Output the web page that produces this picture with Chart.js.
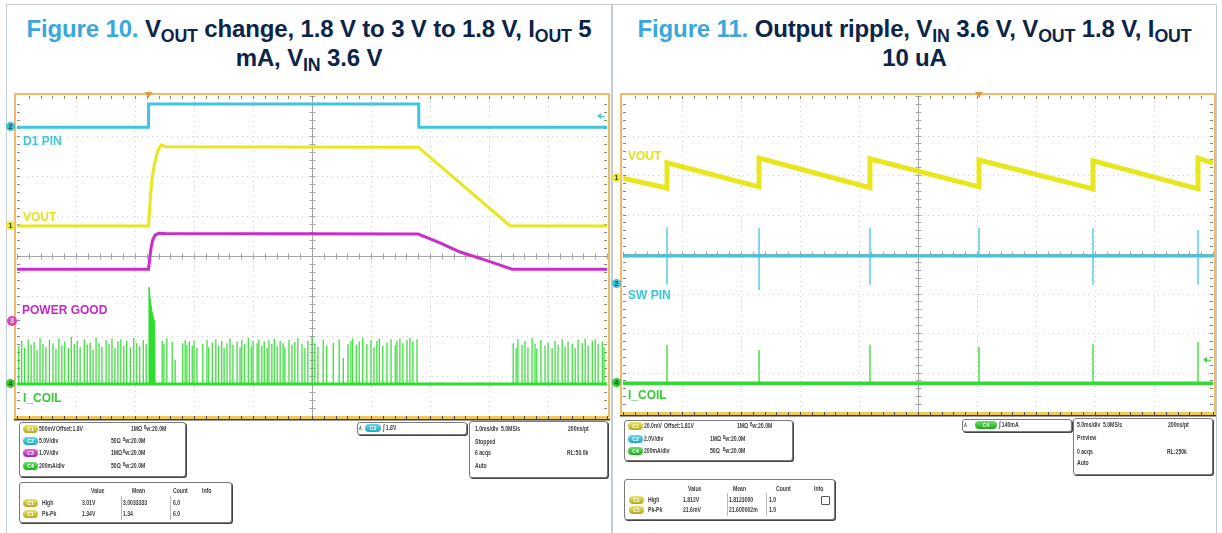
<!DOCTYPE html>
<html><head><meta charset="utf-8">
<script src="https://cdn.jsdelivr.net/npm/chart.js@4"></script>
<style>
html,body{margin:0;padding:0;background:#fff;}
body{width:1222px;height:533px;position:relative;overflow:hidden;font-family:"Liberation Sans",Arial,sans-serif;}
.bl{position:absolute;background:#c3ccd4;}
.title{position:absolute;top:14px;text-align:center;font-weight:bold;font-size:24px;line-height:29px;color:#0b2447;white-space:nowrap;letter-spacing:-0.15px;}
.title .fig{color:#3aa7dc;}
.title sub{font-size:0.74em;vertical-align:-0.26em;line-height:0;}
canvas{position:absolute;}
.lbl{position:absolute;font-weight:bold;font-size:12px;line-height:12px;white-space:nowrap;}
.mk{position:absolute;width:9px;height:9px;border-radius:50%;font-size:7px;line-height:9px;text-align:center;font-weight:bold;color:#333;}
.box{position:absolute;border:1px solid #7a7a7a;border-radius:3px;box-shadow:1px 1px 0 #444;background:#fff;}
.t{position:absolute;font-size:8px;line-height:8px;font-weight:bold;color:#3a3a3a;white-space:nowrap;transform:scaleX(0.64);transform-origin:0 0;}
.pill{position:absolute;width:15px;height:8px;border-radius:4px;font-size:5px;line-height:8px;text-align:center;color:#fff;font-weight:bold;}
.c1{background:linear-gradient(#ece56a,#b0a81e);}
.c2{background:linear-gradient(#6ad8e8,#1ea8bd);}
.c3{background:linear-gradient(#e070e0,#a820a8);}
.c4{background:linear-gradient(#6ae06a,#1eaa1e);}
.vl{position:absolute;width:1px;background:#bbb;}
</style>
</head>
<body>
<!-- panel borders -->
<div class="bl" style="left:6px;top:4px;width:1px;height:529px;"></div>
<div class="bl" style="left:6px;top:4px;width:1211px;height:1px;"></div>
<div class="bl" style="left:611px;top:4px;width:2px;height:529px;"></div>
<div class="bl" style="left:1216px;top:4px;width:1px;height:529px;"></div>

<div class="title" style="left:7px;width:604px;"><span class="fig">Figure 10.</span> V<sub>OUT</sub> change, 1.8 V to 3 V to 1.8 V, I<sub>OUT</sub> 5<br>mA, V<sub>IN</sub> 3.6 V</div>
<div class="title" style="left:613px;width:603px;"><span class="fig">Figure 11.</span> Output ripple, V<sub>IN</sub> 3.6 V, V<sub>OUT</sub> 1.8 V, I<sub>OUT</sub><br>10 uA</div>

<canvas id="fig10" width="611" height="340" style="left:0px;top:86px;width:611px;height:340px;"></canvas>
<canvas id="fig11" width="604" height="340" style="left:612px;top:86px;width:604px;height:340px;"></canvas>

<!-- Figure 10 scope labels & markers -->
<div class="lbl" style="left:23px;top:135px;color:#3ec4dc;">D1 PIN</div>
<div class="lbl" style="left:23px;top:211px;color:#e4e21c;">VOUT</div>
<div class="lbl" style="left:22px;top:304px;color:#c626c6;">POWER GOOD</div>
<div class="lbl" style="left:23px;top:392px;color:#34cc34;">I_COIL</div>
<div class="mk" style="left:6px;top:122px;background:#3ec4dc;">2</div>
<div class="mk" style="left:6px;top:221px;background:#ecea3a;">1</div>
<div class="mk" style="left:7px;top:316px;width:10px;height:10px;line-height:10px;background:#e040b0;color:#fff;">3</div>
<div class="mk" style="left:6px;top:379px;background:#34cc34;">4</div>

<!-- Figure 11 scope labels & markers -->
<div class="lbl" style="left:628px;top:150px;color:#e4e21c;">VOUT</div>
<div class="lbl" style="left:628px;top:289px;color:#3ec4dc;">SW PIN</div>
<div class="lbl" style="left:628px;top:389px;color:#34cc34;">I_COIL</div>
<div class="mk" style="left:612px;top:173px;background:#ecea3a;">1</div>
<div class="mk" style="left:612px;top:279px;background:#3ec4dc;">2</div>
<div class="mk" style="left:612px;top:378px;background:#34cc34;">4</div>

<!-- Figure 10 info boxes -->
<div class="box" style="left:19px;top:422px;width:165px;height:53px;"></div>
<div class="pill c1" style="left:23px;top:425px;">C1</div><div class="t" style="left:39px;top:425px;">500mV</div><div class="t" style="left:56px;top:425px;">Offset:1.8V</div><div class="t" style="left:131px;top:425px;">1MΩ</div><div class="t" style="left:144px;top:425px;">ᴮw:20.0M</div>
<div class="pill c2" style="left:23px;top:437px;">C2</div><div class="t" style="left:39px;top:437px;">5.0V/div</div><div class="t" style="left:111px;top:437px;">50Ω</div><div class="t" style="left:123px;top:437px;">ᴮw:20.0M</div>
<div class="pill c3" style="left:23px;top:449px;">C3</div><div class="t" style="left:39px;top:449px;">1.0V/div</div><div class="t" style="left:111px;top:449px;">1MΩ</div><div class="t" style="left:123px;top:449px;">ᴮw:20.0M</div>
<div class="pill c4" style="left:23px;top:462px;">C4</div><div class="t" style="left:39px;top:462px;">200mA/div</div><div class="t" style="left:111px;top:462px;">50Ω</div><div class="t" style="left:123px;top:462px;">ᴮw:20.0M</div>

<div class="box" style="left:19px;top:482px;width:211px;height:39px;"></div>
<div class="vl" style="left:121px;top:496px;height:24px;"></div><div class="vl" style="left:170px;top:496px;height:24px;"></div>
<div class="t" style="left:91px;top:487px;">Value</div><div class="t" style="left:132px;top:487px;">Mean</div><div class="t" style="left:173px;top:487px;">Count</div><div class="t" style="left:202px;top:487px;">Info</div>
<div class="pill c1" style="left:23px;top:499px;">C1</div><div class="t" style="left:42px;top:499px;">High</div><div class="t" style="left:82px;top:499px;">3.01V</div><div class="t" style="left:123px;top:499px;">3.0033333</div><div class="t" style="left:173px;top:499px;">6.0</div>
<div class="pill c1" style="left:23px;top:510px;">C1</div><div class="t" style="left:42px;top:510px;">Pk-Pk</div><div class="t" style="left:82px;top:510px;">1.34V</div><div class="t" style="left:123px;top:510px;">1.34</div><div class="t" style="left:173px;top:510px;">6.0</div>

<div class="box" style="left:357px;top:422px;width:108px;height:11px;"></div>
<div class="t" style="left:359px;top:424px;font-size:6px;">A</div><div class="pill c2" style="left:365px;top:424px;width:16px;">C2</div><div class="t" style="left:383px;top:424px;">∫ 1.8V</div>

<div class="box" style="left:469px;top:421px;width:137px;height:55px;"></div>
<div class="t" style="left:475px;top:425px;">1.0ms/div</div><div class="t" style="left:501px;top:425px;">5.0MS/s</div><div class="t" style="left:568px;top:425px;">200ns/pt</div>
<div class="t" style="left:475px;top:438px;">Stopped</div>
<div class="t" style="left:475px;top:449px;">6 acqs</div><div class="t" style="left:567px;top:449px;">RL:50.0k</div>
<div class="t" style="left:475px;top:462px;">Auto</div>

<!-- Figure 11 info boxes -->
<div class="box" style="left:624px;top:420px;width:167px;height:39px;"></div>
<div class="pill c1" style="left:628px;top:422px;">C1</div><div class="t" style="left:644px;top:422px;">20.0mV</div><div class="t" style="left:664px;top:422px;">Offset:1.81V</div><div class="t" style="left:737px;top:422px;">1MΩ</div><div class="t" style="left:750px;top:422px;">ᴮw:20.0M</div>
<div class="pill c2" style="left:628px;top:435px;">C2</div><div class="t" style="left:644px;top:435px;">2.0V/div</div><div class="t" style="left:710px;top:435px;">1MΩ</div><div class="t" style="left:723px;top:435px;">ᴮw:20.0M</div>
<div class="pill c4" style="left:628px;top:447px;">C4</div><div class="t" style="left:644px;top:447px;">200mA/div</div><div class="t" style="left:710px;top:447px;">50Ω</div><div class="t" style="left:723px;top:447px;">ᴮw:20.0M</div>

<div class="box" style="left:624px;top:479px;width:209px;height:39px;"></div>
<div class="vl" style="left:727px;top:493px;height:23px;"></div><div class="vl" style="left:766px;top:493px;height:23px;"></div>
<div class="t" style="left:688px;top:485px;">Value</div><div class="t" style="left:733px;top:485px;">Mean</div><div class="t" style="left:776px;top:485px;">Count</div><div class="t" style="left:814px;top:485px;">Info</div>
<div class="pill c1" style="left:629px;top:496px;">C1</div><div class="t" style="left:648px;top:496px;">High</div><div class="t" style="left:683px;top:496px;">1.812V</div><div class="t" style="left:729px;top:496px;">1.8123000</div><div class="t" style="left:769px;top:496px;">1.0</div>
<div style="position:absolute;left:821px;top:496px;width:7px;height:7px;border:1px solid #555;border-radius:1px;"></div>
<div class="pill c1" style="left:629px;top:506px;">C1</div><div class="t" style="left:648px;top:506px;">Pk-Pk</div><div class="t" style="left:683px;top:506px;">21.6mV</div><div class="t" style="left:729px;top:506px;">21.600002m</div><div class="t" style="left:769px;top:506px;">1.0</div>

<div class="box" style="left:962px;top:419px;width:108px;height:11px;"></div>
<div class="t" style="left:964px;top:421px;font-size:6px;">A</div><div class="pill c4" style="left:975px;top:421px;width:22px;">C4</div><div class="t" style="left:999px;top:421px;">∫ 140mA</div>

<div class="box" style="left:1073px;top:418px;width:138px;height:55px;"></div>
<div class="t" style="left:1077px;top:421px;">5.0ms/div</div><div class="t" style="left:1103px;top:421px;">5.0MS/s</div><div class="t" style="left:1168px;top:421px;">200ns/pt</div>
<div class="t" style="left:1077px;top:434px;">Preview</div>
<div class="t" style="left:1077px;top:448px;">0 acqs</div><div class="t" style="left:1167px;top:448px;">RL:250k</div>
<div class="t" style="left:1077px;top:459px;">Auto</div>

<script>
// ===== Figure 10 data (time in ms, level in screen divisions) =====
const f10D1T   = [-5, -2.77, -2.77, 1.81, 1.81, 5];
const f10D1V   = [3.22, 3.22, 3.80, 3.80, 3.22, 3.22];
const f10VoutT = [-5, -2.77, -2.74, -2.71, -2.67, -2.63, -2.59, -2.55, -2.48, 1.80, 3.36, 5];
const f10VoutV = [0.75, 0.75, 1.45, 1.95, 2.30, 2.55, 2.70, 2.78, 2.73, 2.72, 0.75, 0.75];
const f10PgT   = [-5, -2.77, -2.75, -2.73, -2.70, -2.66, -2.60, -2.50, 1.80, 2.17, 2.51, 2.85, 3.19, 3.39, 5];
const f10PgV   = [-0.33, -0.33, -0.05, 0.18, 0.40, 0.52, 0.57, 0.56, 0.55, 0.33, 0.10, -0.06, -0.23, -0.33, -0.33];
const f10CoilBase = -3.2;
const f10BurstT = [-2.775, -2.763, -2.745, -2.717, -2.695, -2.678, -2.665, -2.66];
const f10BurstV = [-3.2, -0.78, -1.05, -1.35, -1.50, -1.60, -1.65, -3.2];
const f10CoilSpikes = [
 [-4.97,-2.25],[-4.92,-2.12],[-4.87,-2.30],[-4.81,-2.08],[-4.76,-2.22],[-4.71,-2.15],[-4.66,-2.35],[-4.61,-2.05],
 [-4.56,-2.20],[-4.51,-2.28],[-4.45,-2.10],[-4.39,-2.18],[-4.34,-2.32],[-4.29,-2.06],[-4.24,-2.24],[-4.19,-2.14],
 [-4.13,-2.30],[-4.08,-2.02],[-4.03,-2.20],[-3.98,-2.12],[-3.93,-2.28],[-3.86,-2.08],[-3.81,-2.22],[-3.76,-2.16],
 [-3.71,-2.34],[-3.66,-2.04],[-3.61,-2.18],[-3.56,-2.26],[-3.49,-2.10],[-3.44,-2.20],[-3.39,-2.06],[-3.34,-2.30],
 [-3.29,-2.14],[-3.24,-2.08],[-3.19,-2.24],[-3.14,-2.12],[-3.08,-2.28],[-3.02,-2.05],[-2.97,-2.18],[-2.92,-2.25],
 [-2.86,-2.10],[-2.81,-2.20],
 [-2.54,-2.12],[-2.51,-2.20],[-2.46,-2.05],[-2.37,-2.15],[-2.32,-2.60],[-2.19,-2.18],[-2.15,-2.10],[-2.12,-2.22],
 [-2.08,-2.14],[-2.03,-2.25],[-2.00,-2.12],[-1.95,-2.30],[-1.85,-2.20],[-1.78,-2.10],[-1.75,-2.28],[-1.69,-2.16],
 [-1.63,-2.08],[-1.58,-2.24],[-1.53,-2.12],[-1.49,-2.30],[-1.44,-2.18],[-1.39,-2.06],[-1.34,-2.22],[-1.27,-2.14],
 [-1.22,-2.28],[-1.19,-2.10],[-1.14,-2.20],[-1.08,-2.05],[-1.03,-2.26],[-1.00,-2.12],[-0.93,-2.18],[-0.90,-2.08],
 [-0.85,-2.24],[-0.81,-2.14],[-0.76,-2.30],[-0.73,-2.10],[-0.68,-2.20],[-0.64,-2.06],[-0.59,-2.25],[-0.54,-2.12],
 [-0.49,-2.18],[-0.46,-2.28],[-0.39,-2.10],[-0.34,-2.22],[-0.29,-2.15],[-0.24,-2.05],[-0.17,-2.20],[-0.12,-2.30],
 [-0.07,-2.12],[0.00,-2.00],[0.05,-2.18],[0.10,-2.26],[0.19,-2.10],[0.25,-2.24],[0.36,-2.16],[0.46,-2.08],
 [0.53,-2.55],[0.61,-2.20],[0.66,-2.12],[0.69,-2.06],[0.75,-2.22],[0.80,-2.14],[0.86,-2.04],[0.93,-2.20],
 [1.00,-2.10],[1.05,-2.28],[1.10,-2.12],[1.14,-2.06],[1.20,-2.24],[1.27,-2.16],[1.34,-2.08],[1.41,-2.22],
 [1.44,-2.12],[1.49,-2.06],[1.54,-2.18],[1.61,-2.10],[1.66,-2.04],[1.71,-2.14],[1.78,-2.08],
 [3.41,-2.18],[3.46,-2.30],[3.49,-2.08],[3.56,-2.22],[3.61,-2.12],[3.66,-2.28],[3.73,-2.05],[3.78,-2.20],
 [3.81,-2.32],[3.88,-2.10],[3.95,-2.24],[4.00,-2.16],[4.07,-2.30],[4.12,-2.12],[4.17,-2.22],[4.24,-2.08],
 [4.29,-2.26],[4.34,-2.14],[4.41,-2.20],[4.46,-2.30],[4.51,-2.10],[4.58,-2.18],[4.63,-2.06],[4.68,-2.24],
 [4.75,-2.12],[4.80,-2.08],[4.85,-2.20],[4.92,-2.14],[4.95,-2.28]
];

// ===== Figure 11 data (time in ms, level in screen divisions) =====
const f11VoutT = [-25, -21.27, -21.27, -13.47, -13.47, -4.07, -4.07, 5.17, 5.17, 14.83, 14.83, 23.73, 23.73, 25];
const f11VoutV = [1.92, 1.67, 2.31, 1.70, 2.43, 1.68, 2.41, 1.70, 2.38, 1.65, 2.36, 1.65, 2.43, 2.30];
const f11SwBase = -0.05;
const f11SwSpikes = [[-21.27, 0.68, -0.78], [-13.47, 0.66, -0.91], [-4.07, 0.66, -0.78], [5.17, 0.66, -0.05], [14.83, 0.66, -0.78], [23.73, 0.61, -0.78]];
const f11CoilBase = -3.27;
const f11CoilSpikes = [[-21.27, -2.30], [-13.47, -2.43], [-4.07, -2.30], [5.17, -2.35], [14.83, -2.28], [23.73, -2.23]];

// ===== colours =====
const CYAN = '#3ec6de', YEL = '#e8e61e', MAG = '#cc2ccc', GRN = '#2fdc2f';

function pts(ts, vs) { return ts.map((t, i) => ({x: t, y: vs[i]})); }
function spikeLine(base, spikes, xmin, xmax) {
  const d = [{x: xmin, y: base}];
  spikes.forEach(s => {
    d.push({x: s[0], y: base}, {x: s[0], y: s[1]});
    if (s.length > 2) d.push({x: s[0], y: s[2]});
    d.push({x: s[0], y: base});
  });
  d.push({x: xmax, y: base});
  return d;
}

const scopeDecor = {
  id: 'scopeDecor',
  beforeDatasetsDraw(chart, args, o) {
    const {ctx, chartArea: a, scales: {x, y}} = chart;
    const nx = 10, ny = 8;
    const xs = (x.max - x.min) / nx;
    ctx.save();
    ctx.strokeStyle = '#d0d0d0'; ctx.lineWidth = 1; ctx.setLineDash([1, 4]);
    for (let i = 1; i < nx; i++) {
      if (i === nx / 2) continue;
      const p = Math.round(x.getPixelForValue(x.min + i * xs)) + 0.5;
      ctx.beginPath(); ctx.moveTo(p, a.top); ctx.lineTo(p, a.bottom); ctx.stroke();
    }
    for (let j = 1; j < ny; j++) {
      if (j === ny / 2) continue;
      const p = Math.round(y.getPixelForValue(-4 + j)) + 0.5;
      ctx.beginPath(); ctx.moveTo(a.left, p); ctx.lineTo(a.right, p); ctx.stroke();
    }
    ctx.setLineDash([]);
    const cx = Math.round(x.getPixelForValue((x.min + x.max) / 2)) + 0.5;
    const cy = Math.round(y.getPixelForValue(0)) + 0.5;
    ctx.strokeStyle = '#a6a6a6';
    ctx.beginPath(); ctx.moveTo(cx, a.top); ctx.lineTo(cx, a.bottom); ctx.moveTo(a.left, cy); ctx.lineTo(a.right, cy); ctx.stroke();
    ctx.beginPath();
    for (let i = 0; i <= nx * 5; i++) {
      const p = Math.round(x.getPixelForValue(x.min + i * xs / 5)) + 0.5;
      ctx.moveTo(p, cy - 3); ctx.lineTo(p, cy + 3);
    }
    for (let j = 0; j <= ny * 5; j++) {
      const p = Math.round(y.getPixelForValue(-4 + j * 0.2)) + 0.5;
      ctx.moveTo(cx - 3, p); ctx.lineTo(cx + 3, p);
    }
    ctx.stroke();
    ctx.strokeStyle = '#ecbb6c'; ctx.lineWidth = 2;
    ctx.beginPath();
    ctx.moveTo(a.left - 2, a.bottom); ctx.lineTo(a.left - 2, a.top - 2);
    ctx.lineTo(a.right + 2, a.top - 2); ctx.lineTo(a.right + 2, a.bottom);
    ctx.stroke();
    ctx.strokeStyle = '#8f846c'; ctx.lineWidth = 1;
    ctx.beginPath();
    for (let i = 1; i < nx * 5; i++) {
      const p = Math.round(x.getPixelForValue(x.min + i * xs / 5)) + 0.5;
      ctx.moveTo(p, a.top); ctx.lineTo(p, a.top + 3);
    }
    for (let j = 1; j < ny * 5; j++) {
      const p = Math.round(y.getPixelForValue(-4 + j * 0.2)) + 0.5;
      ctx.moveTo(a.left, p); ctx.lineTo(a.left + 3, p);
      ctx.moveTo(a.right - 3, p); ctx.lineTo(a.right, p);
    }
    ctx.stroke();
    ctx.fillStyle = '#f0c85c'; ctx.fillRect(a.left - 3, a.bottom, a.right - a.left + 6, 4);
    ctx.fillStyle = '#3a3a3a'; ctx.fillRect(a.left - 3, a.bottom + 3, a.right - a.left + 6, 1.5);
    ctx.beginPath(); ctx.strokeStyle = '#4a4a4a';
    for (let i = 0; i <= nx * 5; i++) {
      const p = Math.round(x.getPixelForValue(x.min + i * xs / 5)) + 0.5;
      ctx.moveTo(p, a.bottom); ctx.lineTo(p, a.bottom + 4);
    }
    ctx.stroke();
    const tp = x.getPixelForValue(o.trig);
    ctx.fillStyle = '#e39a3a';
    ctx.beginPath(); ctx.moveTo(tp - 4, a.top - 4); ctx.lineTo(tp + 4, a.top - 4); ctx.lineTo(tp, a.top + 2); ctx.closePath(); ctx.fill();
    const ly = y.getPixelForValue(o.level), lx = a.right - o.levelInset;
    ctx.fillStyle = o.levelColor; ctx.strokeStyle = o.levelColor; ctx.lineWidth = 1;
    ctx.beginPath(); ctx.moveTo(lx, ly); ctx.lineTo(lx + 4, ly - 3); ctx.lineTo(lx + 4, ly + 3); ctx.closePath(); ctx.fill();
    ctx.beginPath(); ctx.moveTo(lx + 4, ly + 0.5); ctx.lineTo(lx + 8, ly + 0.5); ctx.stroke();
    ctx.restore();
  }
};

function makeScope(id, xmin, xmax, datasets, pad, decor) {
  return new Chart(document.getElementById(id), {
    type: 'line',
    data: {datasets},
    options: {
      responsive: false, animation: false, events: [],
      layout: {padding: pad},
      scales: {
        x: {type: 'linear', min: xmin, max: xmax, display: false},
        y: {type: 'linear', min: -4, max: 4, display: false}
      },
      plugins: {legend: {display: false}, tooltip: {enabled: false}, scopeDecor: decor},
      elements: {point: {radius: 0}, line: {tension: 0, borderJoinStyle: 'miter'}}
    },
    plugins: [scopeDecor]
  });
}

const line = (data, color, w, extra) => Object.assign({data, borderColor: color, backgroundColor: color, borderWidth: w, fill: false}, extra || {});

makeScope('fig10', -5, 5, [
  line(pts(f10D1T, f10D1V), CYAN, 3),
  line(pts(f10VoutT, f10VoutV), YEL, 3),
  line(pts(f10PgT, f10PgV), MAG, 3),
  line(spikeLine(f10CoilBase, f10CoilSpikes, -5, 5), GRN, 1.2),
  line(pts(f10BurstT, f10BurstV), GRN, 1, {fill: {value: f10CoilBase}}),
  line(pts([-5, 5], [f10CoilBase, f10CoilBase]), GRN, 3)
], {left: 17, top: 10, right: 4, bottom: 10},
  {trig: -2.77, level: 3.5, levelColor: CYAN, levelInset: 10});

makeScope('fig11', -25, 25, [
  line(pts(f11VoutT, f11VoutV), YEL, 5),
  line(spikeLine(f11SwBase, f11SwSpikes, -25, 25), CYAN, 1.3),
  line(pts([-25, 25], [f11SwBase, f11SwBase]), CYAN, 3),
  line(spikeLine(f11CoilBase, f11CoilSpikes, -25, 25), GRN, 1.3),
  line(pts([-25, 25], [f11CoilBase, f11CoilBase]), GRN, 3.5)
], {left: 11, top: 10, right: 3, bottom: 14},
  {trig: 5.17, level: -2.68, levelColor: GRN, levelInset: 10});
</script>
</body></html>
